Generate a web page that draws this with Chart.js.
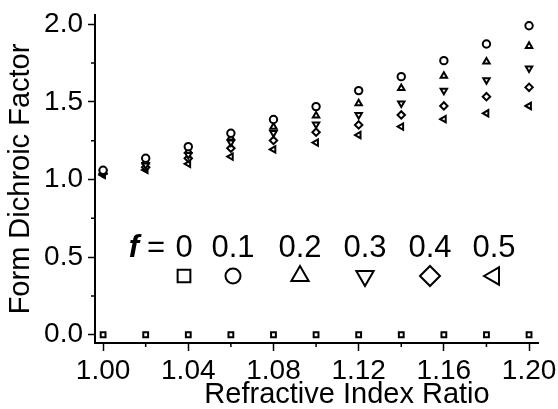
<!DOCTYPE html>
<html>
<head>
<meta charset="utf-8">
<script src="https://cdn.jsdelivr.net/npm/chart.js@4.4.0/dist/chart.umd.min.js"></script>
<style>
  html, body { margin: 0; padding: 0; background: #fff; }
  #wrap { width: 558px; height: 409px; position: relative; }
</style>
</head>
<body>
<div id="wrap"><canvas id="dichroicChart"></canvas></div>
<script>
// refractive index ratio (x values)
const ratio = [1.00, 1.02, 1.04, 1.06, 1.08, 1.10, 1.12, 1.14, 1.16, 1.18, 1.20];

// form dichroic factor, one array per volume fraction f
const fLabels = ['0', '0.1', '0.2', '0.3', '0.4', '0.5'];
const f00 = [0, 0, 0, 0, 0, 0, 0, 0, 0, 0, 0];
const f01 = [1.060, 1.137, 1.212, 1.298, 1.387, 1.470, 1.573, 1.663, 1.766, 1.873, 1.991];
const f02 = [1.050, 1.116, 1.184, 1.270, 1.339, 1.412, 1.491, 1.588, 1.667, 1.759, 1.860];
const f03 = [1.045, 1.094, 1.159, 1.240, 1.300, 1.356, 1.416, 1.491, 1.573, 1.641, 1.717];
const f04 = [1.040, 1.079, 1.137, 1.202, 1.252, 1.305, 1.352, 1.416, 1.474, 1.534, 1.594];
const f05 = [1.030, 1.062, 1.101, 1.148, 1.194, 1.238, 1.287, 1.341, 1.389, 1.427, 1.474];

// tick values
const xTicks = [1.00, 1.04, 1.08, 1.12, 1.16, 1.20];
const xMinorTicks = [1.02, 1.06, 1.10, 1.14, 1.18];
const yTicks = [0.0, 0.5, 1.0, 1.5, 2.0];
const yMinorTicks = [0.25, 0.75, 1.25, 1.75];

const series = [f00, f01, f02, f03, f04, f05];
const markers = [
    { pointStyle: 'rect', rotation: 0 },
    { pointStyle: 'circle', rotation: 0 },
    { pointStyle: 'triangle', rotation: 0 },
    { pointStyle: 'triangle', rotation: 180 },
    { pointStyle: 'rectRot', rotation: 0 },
    { pointStyle: 'triangle', rotation: -90 }
];

const FONT = '"Liberation Sans", Arial, Helvetica, sans-serif';
Chart.defaults.font.family = FONT;
Chart.defaults.color = '#000';

// short minor ticks on both axes
const minorTicks = {
    id: 'minorTicks',
    afterDraw(chart) {
        const ctx = chart.ctx;
        const xs = chart.scales.x, ys = chart.scales.y;
        ctx.save();
        ctx.strokeStyle = '#000';
        ctx.lineWidth = 1.5;
        ctx.beginPath();
        xMinorTicks.forEach(v => {
            const px = xs.getPixelForValue(v);
            ctx.moveTo(px, xs.top);
            ctx.lineTo(px, xs.top + 4);
        });
        yMinorTicks.forEach(v => {
            const py = ys.getPixelForValue(v);
            ctx.moveTo(ys.right, py);
            ctx.lineTo(ys.right - 4, py);
        });
        ctx.stroke();
        ctx.restore();
    }
};

// f = ... key inside the plot, plus the x axis title
const keyAndTitle = {
    id: 'keyAndTitle',
    afterDraw(chart) {
        const ctx = chart.ctx;
        const keyX = [184, 233, 300, 365, 430, 494];
        const textY = 257, markY = 276;
        ctx.save();
        ctx.fillStyle = '#000';
        ctx.textBaseline = 'alphabetic';
        ctx.textAlign = 'center';
        ctx.font = 'italic bold 31px ' + FONT;
        ctx.fillText('f', 134, textY);
        ctx.font = '31px ' + FONT;
        ctx.fillText('=', 156, textY);
        fLabels.forEach((t, i) => ctx.fillText(t, keyX[i], textY));

        const sizes = [9, 7.5, 10, 10, 10, 10];
        ctx.strokeStyle = '#000';
        ctx.fillStyle = '#fff';
        ctx.lineWidth = 2;
        markers.forEach((m, i) => {
            Chart.helpers.drawPoint(ctx, {
                pointStyle: m.pointStyle, rotation: m.rotation,
                radius: sizes[i], borderWidth: 2
            }, keyX[i], markY);
        });

        ctx.fillStyle = '#000';
        ctx.font = '29px ' + FONT;
        ctx.fillText('Refractive Index Ratio', 347, 403);
        ctx.restore();
    }
};

const ctxDich = document.getElementById('dichroicChart').getContext('2d');
const dichroicChart = new Chart(ctxDich, {
    type: 'scatter',
    data: {
        datasets: series.map((s, i) => ({
            label: 'f = ' + fLabels[i],
            data: ratio.map((x, j) => ({ x: x, y: s[j] })),
            pointStyle: markers[i].pointStyle,
            rotation: markers[i].rotation,
            pointRadius: i === 0 ? 3.4 : 3.7,
            borderColor: '#000',
            backgroundColor: '#fff',
            borderWidth: 2,
            showLine: false
        }))
    },
    options: {
        responsive: true,
        maintainAspectRatio: false,
        animation: false,
        layout: { padding: { top: 15, right: 20, left: 0, bottom: 0 } },
        plugins: {
            legend: { display: false },
            tooltip: { enabled: false }
        },
        scales: {
            x: {
                type: 'linear',
                min: 0.9962,
                max: 1.2042,
                afterBuildTicks: s => { s.ticks = xTicks.map(v => ({ value: v })); },
                afterFit: s => { s.height = 66; s.paddingLeft = 0; s.paddingRight = 0; },
                grid: { drawOnChartArea: false, tickLength: 8, tickColor: '#000', tickWidth: 1.5 },
                border: { color: '#000', width: 2 },
                ticks: {
                    font: { size: 28 },
                    padding: 3,
                    autoSkip: false,
                    maxRotation: 0,
                    callback: v => v.toFixed(2)
                }
            },
            y: {
                min: -0.053,
                max: 2.06,
                afterBuildTicks: s => { s.ticks = yTicks.map(v => ({ value: v })); },
                afterFit: s => { s.width = 95; s.paddingTop = 0; s.paddingBottom = 0; },
                grid: { drawOnChartArea: false, tickLength: 7, tickColor: '#000', tickWidth: 1.5 },
                border: { color: '#000', width: 2 },
                ticks: {
                    font: { size: 28 },
                    padding: 5,
                    callback: v => v.toFixed(1)
                },
                title: {
                    display: true,
                    text: 'Form Dichroic Factor',
                    font: { size: 29 },
                    padding: { top: 4, bottom: 0 }
                }
            }
        }
    },
    plugins: [minorTicks, keyAndTitle]
});
</script>
</body>
</html>
